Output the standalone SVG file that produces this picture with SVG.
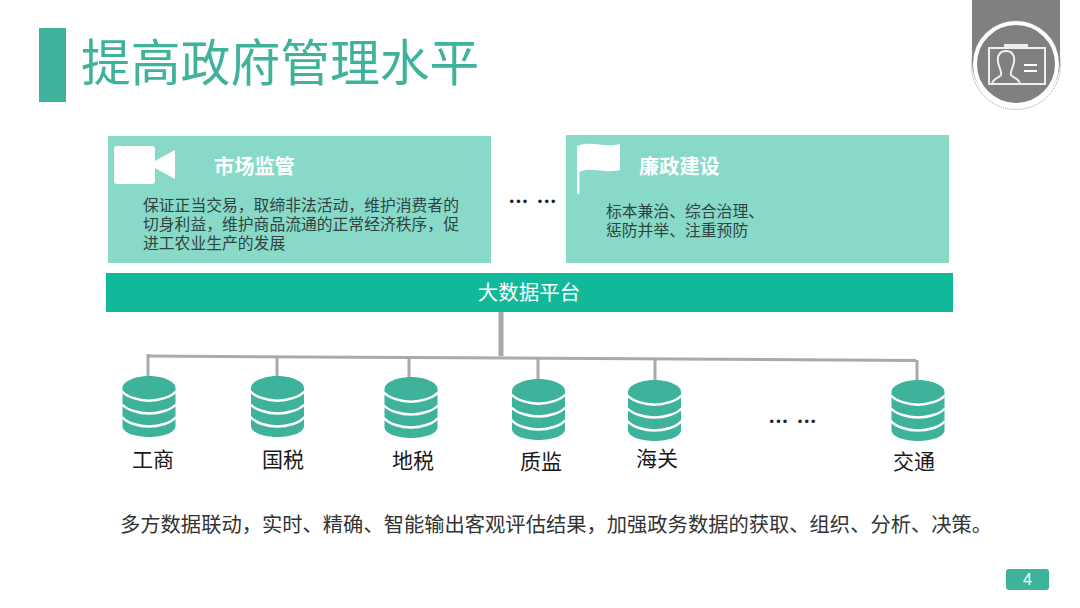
<svg xmlns="http://www.w3.org/2000/svg" width="1080" height="608" viewBox="0 0 1080 608">
<style>
text{font-family:"Liberation Sans","Noto Sans CJK SC",sans-serif}
.panel{fill:#88d9c8}
.head{font-size:20.200px;font-weight:bold;fill:#fff}
.body{font-size:15.800px;fill:#2f4440}
.lab{font-size:21px;fill:#1a1a1a;text-anchor:middle}
text.dots{font-family:Lato,sans-serif;font-size:23px;font-weight:bold;fill:#222;letter-spacing:1.200px;word-spacing:1.500px}
.ln{stroke:#a9a9a9;stroke-width:3;fill:none}
.db{fill:#3eb29a}
.gap{fill:none;stroke:#fff;stroke-width:2.500}
</style>
<defs>
<g id="cyl">
<path class="db" d="M-26.500 12V50C-26.500 57 -13 61 0 61S26.500 57 26.500 50V12C26.500 5 13 0 0 0S-26.500 5 -26.500 12Z"/>
<path class="gap" d="M-27 15.500C-22 21 -10 24.700 0 24.700S22 21 27 15.500"/>
<path class="gap" d="M-27 28.500C-22 34 -10 37.500 0 37.500S22 34 27 28.500"/>
<path class="gap" d="M-27 41C-22 47 -10 50.500 0 50.500S22 47 27 41"/>
</g>
</defs>
<rect width="1080" height="608" fill="#fff"/>
<g id="title">
<rect x="39" y="28" width="27" height="74" fill="#3eb29a"/>
<text x="81" y="81" font-size="49.800" fill="#3eb29a">提高政府管理水平</text>
</g>
<g id="badge">
<path d="M972 0H1060V62A44 44 0 0 1 972 62Z" fill="#808080"/>
<circle cx="1016" cy="65" r="44.500" fill="none" stroke="#999" stroke-width="1" stroke-dasharray="1 1"/>
<circle cx="1016" cy="64" r="41" fill="#808080" stroke="#fff" stroke-width="4"/>
<g fill="none" stroke="#eee" stroke-width="2">
<rect x="989" y="48" width="56" height="36"/>
<path d="M1005 48V45H1027V48" fill="#eee"/>
<path d="M992 84C993 78 999 78 1001 75C1002 71 999 68 998 62C997 54 1001 51 1006 51C1011 51 1015 54 1014 62C1013 68 1010 71 1011 75C1013 78 1019 78 1020 84"/>
</g>
<path d="M1024 65H1037M1024 71H1037" stroke="#fff" stroke-width="2"/>
</g>
<g id="market">
<rect class="panel" x="108" y="136" width="383" height="127"/>
<rect x="114" y="146" width="41" height="38" rx="3" fill="#fff"/>
<path d="M155 161L175 150V179L155 168Z" fill="#fff"/>
<text class="head" x="214" y="174">市场监管</text>
<text class="body"><tspan x="143" y="211">保证正当交易，取缔非法活动，维护消费者的</tspan><tspan x="143" y="230">切身利益，维护商品流通的正常经济秩序，促</tspan><tspan x="143" y="249">进工农业生产的发展</tspan></text>
</g>
<g id="dots1"><text class="dots" x="509" y="203">... ...</text></g>
<g id="clean">
<rect class="panel" x="566" y="135" width="383" height="128"/>
<path d="M577 194V146C590 140 605 148 620 144V170C605 174 590 166 579.500 172V194Z" fill="#fff"/>
<text class="head" x="639" y="174">廉政建设</text>
<text class="body"><tspan x="606" y="217">标本兼治、综合治理、</tspan><tspan x="606" y="236">惩防并举、注重预防</tspan></text>
</g>
<g id="platform">
<rect x="106" y="273" width="847" height="39" fill="#12b89a"/>
<text x="529" y="300" font-size="20.500" fill="#fff" text-anchor="middle">大数据平台</text>
</g>
<g id="connectors">
<path d="M501 312V356" stroke="#a9a9a9" stroke-width="5" fill="none"/>
<path class="ln" d="M147 356L916 360.500"/>
<path class="ln" d="M148 354V380M277 357V381M409 357V381M538 357V381M655 359V384M917 360V384"/>
</g>
<g id="n1"><use href="#cyl" x="149" y="376"/><text class="lab" x="153" y="467">工商</text></g>
<g id="n2"><use href="#cyl" x="277.500" y="376"/><text class="lab" x="283" y="467">国税</text></g>
<g id="n3"><use href="#cyl" x="411" y="377"/><text class="lab" x="413" y="468">地税</text></g>
<g id="n4"><use href="#cyl" x="538.500" y="379"/><text class="lab" x="541" y="469">质监</text></g>
<g id="n5"><use href="#cyl" x="654.500" y="380"/><text class="lab" x="657" y="466">海关</text></g>
<g id="n6"><use href="#cyl" x="918" y="380"/><text class="lab" x="914" y="469">交通</text></g>
<g id="dots2"><text class="dots" x="769" y="422.500">... ...</text></g>
<g id="summary"><text x="120" y="532" font-size="20.300" fill="#333">多方数据联动，实时、精确、智能输出客观评估结果，加强政务数据的获取、组织、分析、决策。</text></g>
<g id="page">
<rect x="1006" y="569" width="43" height="21" rx="3" fill="#3eb29a"/>
<text x="1027.500" y="585" font-size="16" fill="#fff" text-anchor="middle">4</text>
</g>
</svg>
